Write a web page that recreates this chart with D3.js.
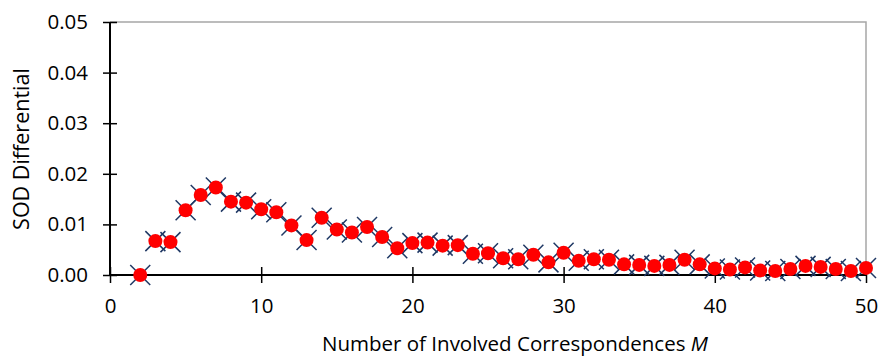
<!DOCTYPE html>
<html>
<head>
<meta charset="utf-8">
<style>
    body { margin: 0; background: #fff; }
    svg { display: block; font-family: 'Open Sans', sans-serif; }
    .axis text { font-family: 'Open Sans', sans-serif; font-size: 20.5px; fill: #000; }
    .axis .domain { stroke: #000; stroke-width: 2px; }
    .axis .tick line { stroke: #000; stroke-width: 1.5px; }
    .frame { fill: none; stroke: #a6a6a6; stroke-width: 1.5px; }
    .title { font-size: 20.5px; fill: #000; }
</style>
</head>
<body>
<div id="chart"></div>
<script src="https://d3js.org/d3.v7.min.js"></script>
<script>
    // involved correspondences M
    var mValues = [2, 3, 4, 5, 6, 7, 8, 9, 10, 11, 12, 13, 14, 15, 16, 17, 18, 19, 20,
        21, 22, 23, 24, 25, 26, 27, 28, 29, 30, 31, 32, 33, 34, 35, 36, 37, 38, 39, 40,
        41, 42, 43, 44, 45, 46, 47, 48, 49, 50];
    // SOD differential
    var sodValues = [0.0000, 0.0067, 0.0065, 0.0128, 0.0158, 0.0173, 0.0145, 0.0143, 0.0130,
        0.0124, 0.0098, 0.0069, 0.0113, 0.0090, 0.0084, 0.0095, 0.0075, 0.0053, 0.0063,
        0.0064, 0.0058, 0.0059, 0.0042, 0.0043, 0.0033, 0.0031, 0.0040, 0.0025, 0.0044,
        0.0028, 0.0031, 0.0030, 0.0021, 0.0020, 0.0018, 0.0020, 0.0030, 0.0021, 0.0013,
        0.0011, 0.0015, 0.0009, 0.0008, 0.0012, 0.0018, 0.0016, 0.0012, 0.0008, 0.0014];
    var xTicks = [0, 10, 20, 30, 40, 50];
    var yTicks = [0, 0.01, 0.02, 0.03, 0.04, 0.05];

    var data = mValues.map(function(m, i) { return {m: m, sod: sodValues[i]}; });

    var W = 882, H = 357;
    var margin = {top: 22, right: 16, bottom: 82, left: 110};
    var width = W - margin.left - margin.right,
        height = H - margin.top - margin.bottom;

    var svg = d3.select("#chart").append("svg")
        .attr("width", W)
        .attr("height", H);

    var g = svg.append("g")
        .attr("transform", "translate(" + margin.left + "," + margin.top + ")");

    var x = d3.scaleLinear().domain([0, 50]).range([0, width]);
    var y = d3.scaleLinear().domain([0, 0.05]).range([height, 0]);

    // light frame on top and right
    g.append("path")
        .attr("class", "frame")
        .attr("d", "M0,0H" + width + "V" + height);

    var xAxis = g.append("g")
        .attr("class", "axis")
        .attr("transform", "translate(0," + height + ")")
        .call(d3.axisBottom(x).tickValues(xTicks).tickSize(0).tickPadding(23).tickFormat(d3.format("d")));
    xAxis.selectAll(".tick line").attr("y1", -8).attr("y2", 8);
    xAxis.select(".domain").attr("d", "M0,0H" + width);

    var yAxis = g.append("g")
        .attr("class", "axis")
        .call(d3.axisLeft(y).tickValues(yTicks).tickSize(0).tickPadding(22).tickFormat(d3.format(".2f")));
    yAxis.selectAll(".tick line").attr("x1", -7).attr("x2", 7);
    yAxis.select(".domain").attr("d", "M0,0V" + height);

    // blue crosses
    var s = 10;
    g.append("g").selectAll("path")
        .data(data)
        .enter().append("path")
        .attr("d", function(d) {
            var cx = x(d.m), cy = y(d.sod);
            return "M" + (cx - s) + "," + (cy - s) + "L" + (cx + s) + "," + (cy + s) +
                "M" + (cx - s) + "," + (cy + s) + "L" + (cx + s) + "," + (cy - s);
        })
        .attr("stroke", "#1f3864")
        .attr("stroke-width", 1.5)
        .attr("fill", "none");

    // red dots
    g.append("g").selectAll("circle")
        .data(data)
        .enter().append("circle")
        .attr("cx", function(d) { return x(d.m); })
        .attr("cy", function(d) { return y(d.sod); })
        .attr("r", 7)
        .attr("fill", "#ff0000");

    // axis titles
    var xt = svg.append("text")
        .attr("class", "title")
        .attr("x", 515)
        .attr("y", 351)
        .attr("text-anchor", "middle");
    xt.append("tspan").text("Number of Involved Correspondences ");
    xt.append("tspan").attr("font-style", "italic").text("M");

    svg.append("text")
        .attr("class", "title")
        .attr("transform", "translate(29," + (margin.top + 127) + ") rotate(-90)")
        .attr("text-anchor", "middle")
        .style("font-size", "21.5px")
        .text("SOD Differential");
</script>
</body>
</html>
